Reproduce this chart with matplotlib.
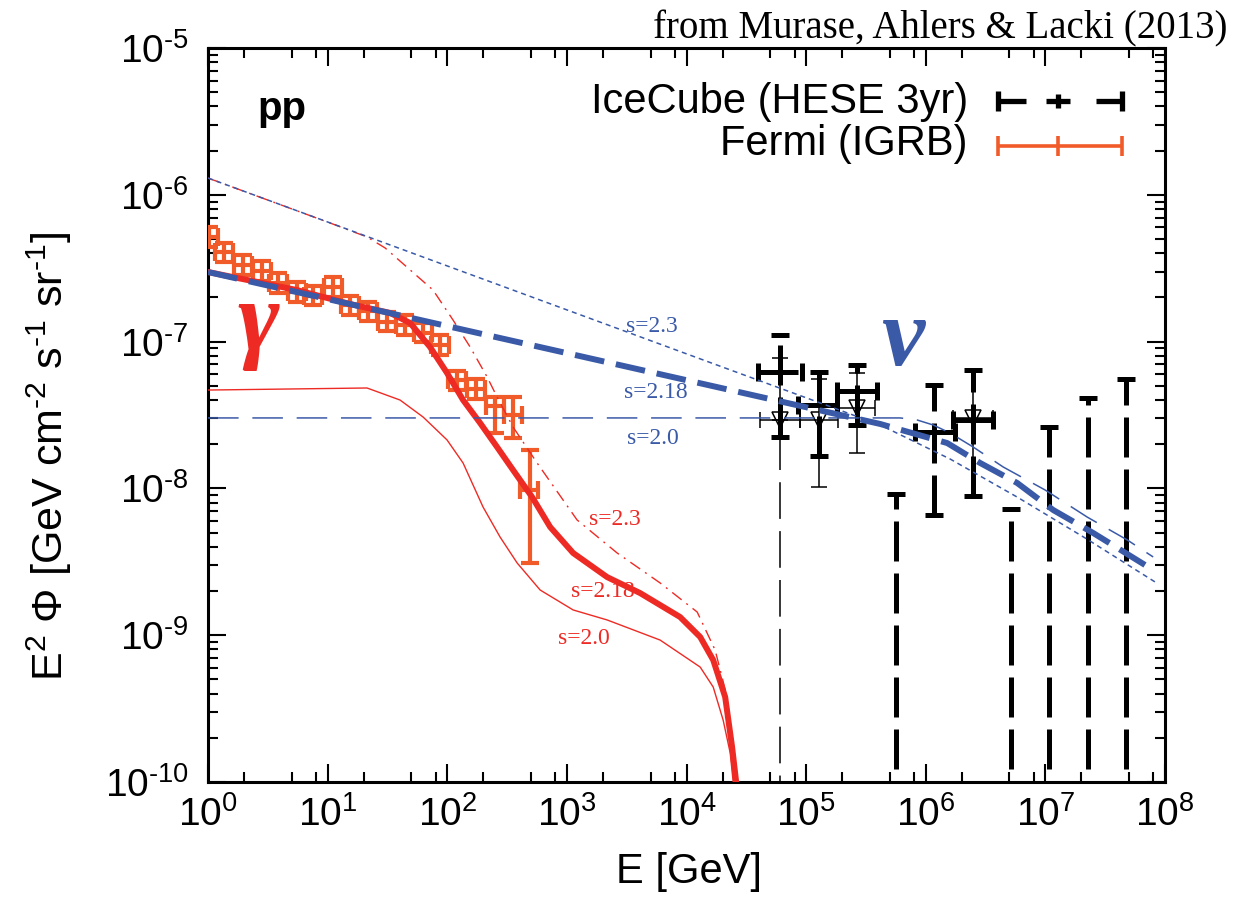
#!/usr/bin/env python3
"""E^2 Phi of pp-scenario gamma rays and neutrinos vs IceCube / Fermi data."""
import numpy as np
import matplotlib
matplotlib.use("Agg")
import matplotlib.pyplot as plt
from matplotlib.ticker import LogLocator, NullFormatter, FuncFormatter

plt.rcParams["font.family"] = ["Liberation Sans", "DejaVu Sans"]
plt.rcParams["mathtext.fontset"] = "custom"
plt.rcParams["mathtext.rm"] = "Liberation Sans"
plt.rcParams["mathtext.it"] = "Liberation Sans:italic"
plt.rcParams["mathtext.bf"] = "Liberation Sans:bold"

BLUE = "#3a5aa8"
RED = "#ee2a24"
ORANGE = "#f15a29"
HY = "\u2010"  # short hyphen used in the exponents

# model curves: log10(E/GeV), log10(E^2 Phi)
nu23_logE = [0, 5.619, 6.204, 6.764, 7.333, 7.918]
nu23_logF = [-5.886, -7.568, -7.800, -8.059, -8.338, -8.638]

nu218_logE = [0, 5.619, 6.179, 6.455, 6.764, 7.065, 7.400, 7.901]
nu218_logF = [-6.526, -7.561, -7.691, -7.827, -7.963, -8.147, -8.304, -8.556]

nu20_logE = [0, 5.786, 5.928, 6.062, 6.204, 6.396, 6.647, 6.998, 7.349, 7.684, 7.901]
nu20_logF = [-7.520, -7.520, -7.534, -7.568, -7.623, -7.718, -7.854, -8.011, -8.195, -8.351, -8.467]

g23_logE = [0, 1.020, 1.329, 1.480, 1.881, 2.048, 2.191, 2.333, 2.416, 2.550, 2.751,
            3.085, 3.420, 3.779, 4.089, 4.239, 4.339, 4.390, 4.423, 4.448]
g23_logF = [-5.886, -6.192, -6.287, -6.362, -6.649, -6.853, -7.037, -7.241, -7.377, -7.582, -7.827,
            -8.215, -8.440, -8.644, -8.842, -9.101, -9.421, -9.762, -10.0, -10.3]

g218_logE = [0, 0.744, 1.187, 1.522, 1.689, 1.856, 1.998, 2.132, 2.274, 2.416, 2.550, 2.709,
             2.860, 3.052, 3.336, 3.612, 3.946, 4.114, 4.223, 4.323, 4.381, 4.415, 4.431]
g218_logF = [-6.526, -6.649, -6.744, -6.805, -6.873, -7.037, -7.214, -7.398, -7.554, -7.718, -7.875, -8.059,
             -8.263, -8.440, -8.604, -8.713, -8.876, -9.012, -9.169, -9.421, -9.762, -10.0, -10.3]

g20_logE = [0, 1.329, 1.605, 1.798, 1.998, 2.132, 2.299, 2.441, 2.584, 2.776, 3.052,
            3.336, 3.779, 4.114, 4.223, 4.306, 4.365, 4.390, 4.406]
g20_logF = [-7.330, -7.316, -7.398, -7.514, -7.670, -7.827, -8.127, -8.331, -8.508, -8.692, -8.828,
            -8.896, -9.033, -9.217, -9.353, -9.578, -9.802, -10.0, -10.3]

# Fermi IGRB
fermi_logE = [0.008, 0.134, 0.293, 0.452, 0.585, 0.744, 0.878, 1.045, 1.187, 1.338,
              1.497, 1.647, 1.798, 1.940, 2.082, 2.241, 2.400, 2.550, 2.692]
fermi_logE_lo = [-0.067, 0.059, 0.218, 0.377, 0.510, 0.669, 0.803, 0.970, 1.112, 1.263,
                 1.422, 1.572, 1.723, 1.865, 2.007, 2.166, 2.325, 2.475, 2.609]
fermi_logE_hi = [0.083, 0.209, 0.368, 0.527, 0.660, 0.819, 0.953, 1.120, 1.262, 1.413,
                 1.572, 1.722, 1.873, 2.015, 2.157, 2.316, 2.475, 2.625, 2.759]
fermi_logF = [-6.287, -6.390, -6.478, -6.519, -6.601, -6.662, -6.689, -6.628, -6.751, -6.792,
              -6.866, -6.887, -6.941, -7.023, -7.262, -7.323, -7.439, -7.500, -8.011]
fermi_logF_lo = [-6.356, -6.455, -6.543, -6.584, -6.666, -6.727, -6.754, -6.693, -6.816, -6.857,
                 -6.931, -6.952, -7.006, -7.088, -7.327, -7.388, -7.623, -7.657, -8.508]
fermi_logF_hi = [-6.219, -6.325, -6.413, -6.454, -6.536, -6.597, -6.624, -6.563, -6.686, -6.727,
                 -6.801, -6.822, -6.876, -6.958, -7.197, -7.258, -7.377, -7.377, -7.738]

# IceCube HESE 3yr (thick dashed)
ic3_logE = [4.783, 5.109, 5.426, 6.070, 6.396]
ic3_logE_lo = [4.599, 4.933, 5.259, 5.911, 6.229]
ic3_logE_hi = [4.967, 5.259, 5.594, 6.246, 6.564]
ic3_logF = [-7.207, -7.432, -7.337, -7.616, -7.534]
ic3_logF_lo = [-7.650, -7.779, -7.568, -8.181, -8.052]
ic3_logF_hi = [-6.955, -7.207, -7.159, -7.296, -7.193]
ic3_ul_logE = [5.753, 6.714, 7.032, 7.358, 7.676]
ic3_ul_logF = [-8.038, -8.140, -7.582, -7.384, -7.255]

# IceCube, earlier data set (thin, open triangles)
ic2_logE = [4.783, 5.109, 5.426, 6.396]
ic2_logE_lo = [4.615, 4.950, 5.259, 6.229]
ic2_logE_hi = [4.950, 5.268, 5.577, 6.564]
ic2_logF = [-7.534, -7.534, -7.452, -7.520]
ic2_logF_lo = [-7.534, -7.990, -7.759, -8.052]
ic2_logF_hi = [-7.112, -7.255, -7.214, -7.193]
ic2_zero_logE = [4.783]
ic2_zero_logF = [-7.534]

x_decades = list(range(0, 9))
y_decades = list(range(-10, -4))

FLOOR = 1e-13


def p10(a):
    return 10.0 ** np.asarray(a, dtype=float)


def errs(center, lo, hi):
    c = p10(center)
    return [c - p10(lo), p10(hi) - c]


def dec_label(v, _pos):
    e = int(round(np.log10(v)))
    return r"$\mathregular{10^{%s}}$" % str(e).replace("-", HY)


fig = plt.figure(figsize=(12.34, 9.09), dpi=100)
ax = fig.add_axes([0.1686, 0.1397, 0.7755, 0.8075])
ax.set_xscale("log")
ax.set_yscale("log")

# Fermi IGRB boxes
ax.errorbar(p10(fermi_logE), p10(fermi_logF),
            xerr=errs(fermi_logE, fermi_logE_lo, fermi_logE_hi),
            yerr=errs(fermi_logF, fermi_logF_lo, fermi_logF_hi),
            fmt="none", ecolor=ORANGE, elinewidth=3.0, capsize=6.5, capthick=3.0, zorder=3)

# IceCube, thin set
ax.errorbar(p10(ic2_logE), p10(ic2_logF),
            xerr=errs(ic2_logE, ic2_logE_lo, ic2_logE_hi),
            yerr=errs(ic2_logF, ic2_logF_lo, ic2_logF_hi),
            fmt="v", ms=11, mfc="none", mec="black", mew=1.1,
            ecolor="black", elinewidth=1.1, capsize=6, capthick=1.1, zorder=4)
ax.vlines(p10(ic2_zero_logE), FLOOR, p10(ic2_zero_logF), colors="black",
          linewidth=1.1, linestyles=[(0, (24, 8))], zorder=4)

# IceCube HESE 3yr, thick dashed
eb = ax.errorbar(p10(ic3_logE), p10(ic3_logF),
                 xerr=errs(ic3_logE, ic3_logE_lo, ic3_logE_hi),
                 yerr=errs(ic3_logF, ic3_logF_lo, ic3_logF_hi),
                 fmt="none", ecolor="black", elinewidth=3.6, capsize=6.5, capthick=3.6, zorder=5)
for lc in eb.lines[2]:
    lc.set_linestyle((0, (8, 2.4)))
ul_F = p10(ic3_ul_logF)
eb = ax.errorbar(p10(ic3_ul_logE), ul_F, yerr=[ul_F - FLOOR, np.zeros_like(ul_F)],
                 fmt="none", ecolor="black", elinewidth=3.6, capsize=6.5, capthick=3.6, zorder=5)
for lc in eb.lines[2]:
    lc.set_linestyle((3, (8, 2.4)))

# model curves
ax.plot(p10(g20_logE), p10(g20_logF), color=RED, lw=1.0, zorder=6)
ax.plot(p10(g23_logE), p10(g23_logF), color=RED, lw=1.0,
        linestyle=(0, (8.6, 4.3, 1.4, 4.3)), zorder=6)
ax.plot(p10(g218_logE), p10(g218_logF), color=RED, lw=4.3, zorder=6)
ax.plot(p10(nu23_logE), p10(nu23_logF), color=BLUE, lw=1.1, linestyle=(0, (3.3, 2.6)), zorder=7)
ax.plot(p10(nu20_logE), p10(nu20_logF), color=BLUE, lw=1.1, linestyle=(0, (20, 9)), zorder=7)
ax.plot(p10(nu218_logE), p10(nu218_logF), color=BLUE, lw=4.3, linestyle=(0, (5, 2)), zorder=7)

ax.set_xlim(1, 1e8)
ax.set_ylim(1e-10, 1e-5)

ax.set_xticks(p10(x_decades))
ax.set_yticks(p10(y_decades))
ax.xaxis.set_major_formatter(FuncFormatter(dec_label))
ax.yaxis.set_major_formatter(FuncFormatter(dec_label))
ax.xaxis.set_minor_locator(LogLocator(base=10, subs=(2, 5, 8), numticks=20))
ax.yaxis.set_minor_locator(LogLocator(base=10, subs=np.arange(2, 10), numticks=20))
ax.xaxis.set_minor_formatter(NullFormatter())
ax.yaxis.set_minor_formatter(NullFormatter())
ax.tick_params(which="both", direction="in", top=True, right=True, width=1.5, labelsize=28)
ax.tick_params(which="major", length=13)
ax.tick_params(which="minor", length=7)
ax.tick_params(axis="x", pad=10)
ax.tick_params(axis="y", pad=14)
for sp in ax.spines.values():
    sp.set_linewidth(2.2)

# annotations
ser = "Liberation Serif"
for x, y, s, c in [(0.464, 0.621, "s=2.3", BLUE), (0.468, 0.530, "s=2.18", BLUE),
                   (0.465, 0.468, "s=2.0", BLUE), (0.425, 0.358, "s=2.3", RED),
                   (0.413, 0.260, "s=2.18", RED), (0.393, 0.196, "s=2.0", RED)]:
    ax.text(x, y, s, color=c, family=ser, fontsize=17, ha="center", va="center",
            transform=ax.transAxes, zorder=8)
ax.text(0.053, 0.589, "γ", color=RED, family=ser, style="italic", weight="bold",
        fontsize=72, ha="center", va="baseline", transform=ax.transAxes)
ax.text(0.726, 0.568, "ν", color=BLUE, family=ser, style="italic", weight="bold",
        fontsize=70, ha="center", va="baseline", transform=ax.transAxes)
ax.text(0.052, 0.902, "pp", weight="bold", fontsize=29, ha="left", va="baseline",
        transform=ax.transAxes)

# legend, drawn by hand
ax.text(0.794, 0.9114, "IceCube (HESE 3yr)", fontsize=30, ha="right", va="baseline",
        transform=ax.transAxes)
ax.text(0.794, 0.854, "Fermi (IGRB)", fontsize=30, ha="right", va="baseline",
        transform=ax.transAxes)
yk, yf, h = 0.9278, 0.8665, 0.0136
kw = dict(transform=ax.transAxes, clip_on=False, solid_capstyle="butt")
for x0, x1 in [(0.8255, 0.8548), (0.8757, 0.9007), (0.9279, 0.9551)]:
    ax.plot([x0, x1], [yk, yk], color="black", lw=3.8, **kw)
for xc, hh in [(0.8255, h), (0.9551, h), (0.8882, 0.010)]:
    ax.plot([xc, xc], [yk - hh, yk + hh], color="black", lw=3.8, **kw)
ax.plot([0.8255, 0.9551], [yf, yf], color=ORANGE, lw=2.6, **kw)
for xc in [0.8255, 0.9551, 0.8882]:
    ax.plot([xc, xc], [yf - h, yf + h], color=ORANGE, lw=2.6, **kw)

fig.text(0.558, 0.041, "E [GeV]", fontsize=30, ha="center", va="center")
ylab = "E$^{2}$ Φ [GeV cm$^{%s2}$ s$^{%s1}$ sr$^{%s1}$]" % (HY, HY, HY)
fig.text(0.040, 0.498, ylab, fontsize=31, rotation=90, ha="center", va="center")
fig.text(0.995, 0.958, "from Murase, Ahlers & Lacki (2013)", family=ser, fontsize=28,
         ha="right", va="baseline")

fig.savefig("out.png", dpi=100)
